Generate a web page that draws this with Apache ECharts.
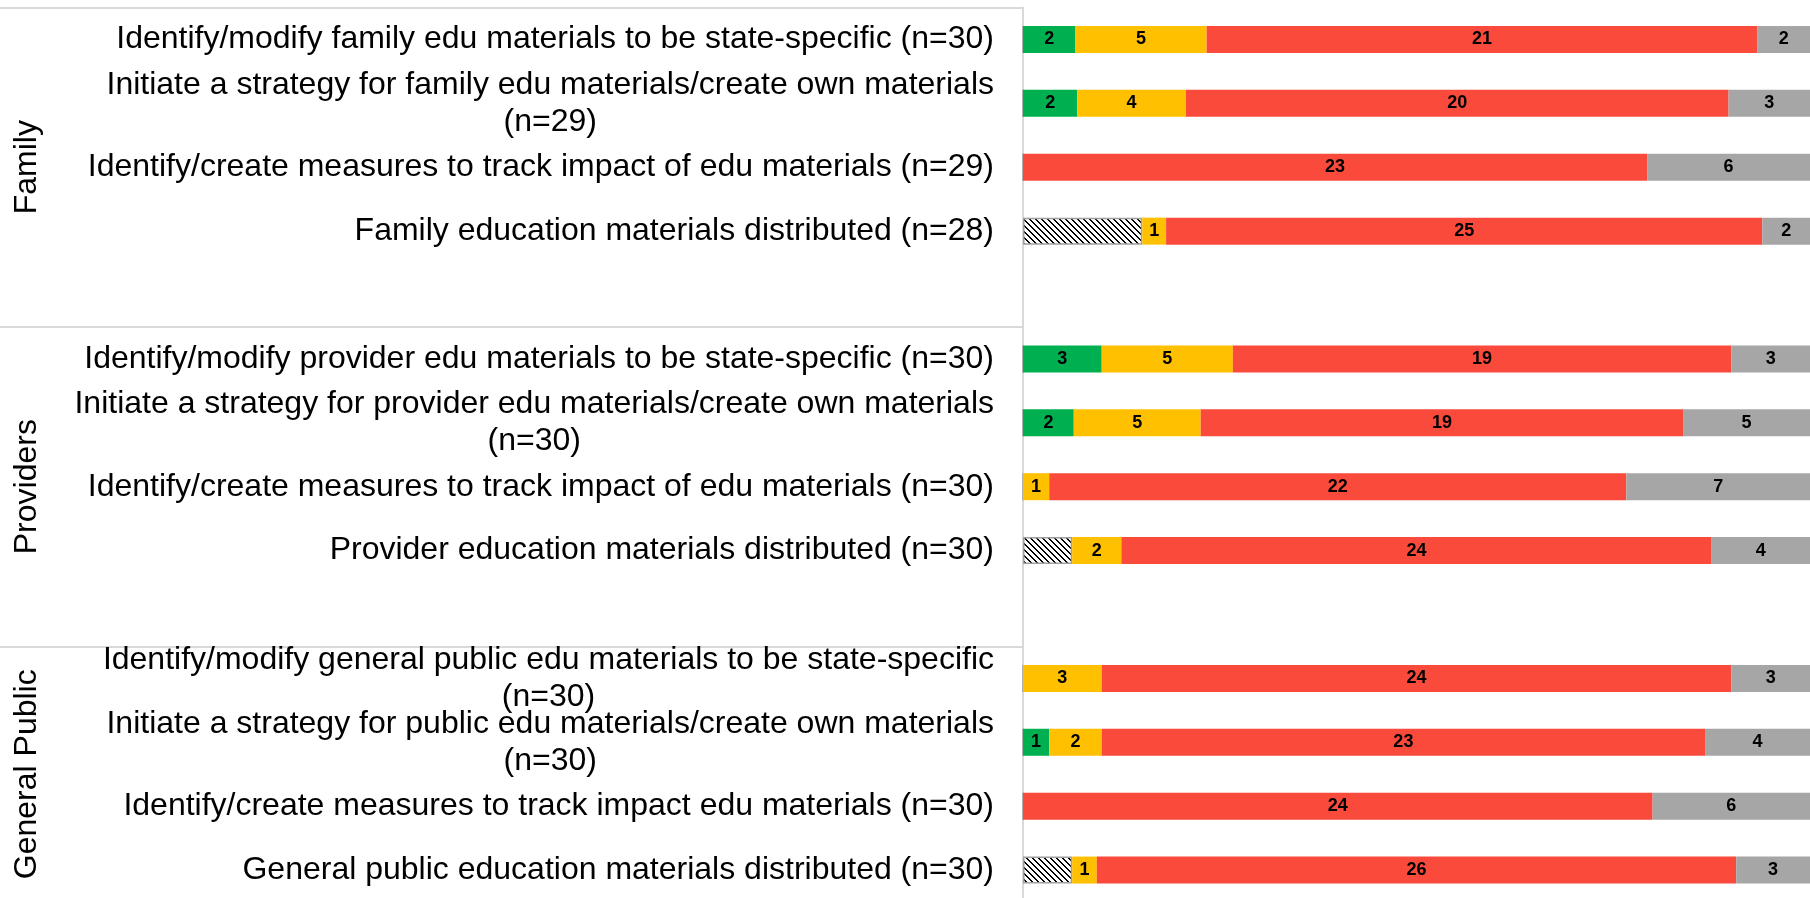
<!DOCTYPE html>
<html>
<head>
<meta charset="utf-8">
<script src="https://cdn.jsdelivr.net/npm/echarts@6/dist/echarts.min.js"></script>
<style>
html, body { margin: 0; padding: 0; background: #fff; }
#main { width: 1810px; height: 898px; }
</style>
</head>
<body>
<div id="main"></div>
<script>
// rows top to bottom, blank entries are the gaps between groups
const categories = [
  'Identify/modify family edu materials to be state-specific (n=30)',
  'Initiate a strategy for family edu materials/create own materials\n(n=29)',
  'Identify/create measures to track impact of edu materials (n=29)',
  'Family education materials distributed (n=28)',
  ' ',
  'Identify/modify provider edu materials to be state-specific (n=30)',
  'Initiate a strategy for provider edu materials/create own materials\n(n=30)',
  'Identify/create measures to track impact of edu materials (n=30)',
  'Provider education materials distributed (n=30)',
  '  ',
  'Identify/modify general public edu materials to be state-specific\n(n=30)',
  'Initiate a strategy for public edu materials/create own materials\n(n=30)',
  'Identify/create measures to track impact edu materials (n=30)',
  'General public education materials distributed (n=30)'
]

const groups = ['Family', 'Providers', 'General Public']
const groupFrom = [0, 5, 10]
const groupTo = [4, 9, 13]

// counts per status
const hatched = [0, 0, 0, 5, null, 0, 0, 0, 2, null, 0, 0, 0, 2]
const green = [2, 2, 0, 0, null, 3, 2, 0, 0, null, 0, 1, 0, 0]
const yellow = [5, 4, 0, 1, null, 5, 5, 1, 2, null, 3, 2, 0, 1]
const red = [21, 20, 23, 25, null, 19, 19, 22, 24, null, 24, 23, 24, 26]
const gray = [2, 3, 6, 2, null, 3, 5, 7, 4, null, 3, 4, 6, 3]

const allCounts = [hatched, green, yellow, red, gray]
// row totals for the 100% stack
const totals = categories.map((c, i) => allCounts.reduce((s, arr) => s + (arr[i] || 0), 0))
const toPct = arr => arr.map((v, i) => (v == null ? null : (v / totals[i]) * 100))

// hatch pattern
const pat = document.createElement('canvas')
pat.width = 6
pat.height = 6
const ctx = pat.getContext('2d')
ctx.fillStyle = '#fff'
ctx.fillRect(0, 0, 6, 6)
ctx.fillStyle = '#000'
for (let i = 0; i < 6; i++) {
  ctx.fillRect(i, i, 1, 1)
  ctx.fillRect((i + 1) % 6, i, 1, 1)
}

const chart = echarts.init(document.getElementById('main'))

function makeSeries(name, counts, color, extra) {
  return Object.assign({
    name: name,
    type: 'bar',
    stack: 'all',
    barWidth: 27,
    data: toPct(counts),
    itemStyle: { color: color },
    label: {
      show: true,
      position: 'inside',
      color: '#000',
      fontSize: 18,
      fontWeight: 'bold',
      fontFamily: 'Liberation Sans, Arial, sans-serif',
      formatter: p => (counts[p.dataIndex] ? String(counts[p.dataIndex]) : '')
    }
  }, extra || {})
}

chart.setOption({
  animation: false,
  backgroundColor: '#fff',
  grid: { left: 1023, right: 0, top: 7.5, bottom: -4, outerBoundsMode: 'none' },
  xAxis: { type: 'value', min: 0, max: 100, show: false },
  yAxis: {
    type: 'category',
    inverse: true,
    data: categories,
    axisLine: { show: true, lineStyle: { color: '#d9d9d9', width: 2 } },
    axisTick: {
      show: true,
      length: 1023,
      interval: i => groupFrom.indexOf(i) >= 0,
      lineStyle: { color: '#d9d9d9', width: 2 }
    },
    axisLabel: {
      interval: 0,
      margin: 29,
      formatter: v => '{c|' + v + '}',
      rich: {
        c: {
          align: 'center',
          fontSize: 32,
          lineHeight: 37,
          color: '#000',
          fontFamily: 'Liberation Sans, Arial, sans-serif'
        }
      }
    }
  },
  series: [
    makeSeries('Not applicable', hatched, { image: pat, repeat: 'repeat' }, {
      itemStyle: { color: { image: pat, repeat: 'repeat' }, borderColor: '#a0a0a0', borderWidth: 1.5 },
      label: { show: false }
    }),
    makeSeries('Complete', green, '#00b050'),
    makeSeries('In progress', yellow, '#ffc000'),
    makeSeries('Not started', red, '#fa4a3c'),
    makeSeries('Unknown', gray, '#a6a6a6')
  ]
})

// group titles, centred on their rows
const graphic = groups.map((g, k) => {
  const y = (chart.convertToPixel({ yAxisIndex: 0 }, groupFrom[k]) +
    chart.convertToPixel({ yAxisIndex: 0 }, groupTo[k])) / 2
  return {
    type: 'text',
    x: 27,
    y: y,
    rotation: Math.PI / 2,
    style: {
      text: g,
      fontSize: 32,
      fontFamily: 'Liberation Sans, Arial, sans-serif',
      fill: '#000',
      align: 'center',
      verticalAlign: 'middle'
    }
  }
})
chart.setOption({ graphic: graphic })
</script>
</body>
</html>
